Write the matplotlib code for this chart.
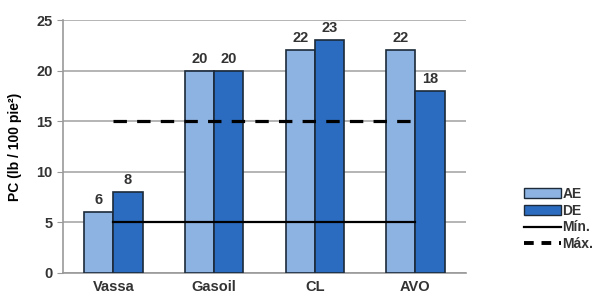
import numpy as np
import matplotlib
matplotlib.use("Agg")
import matplotlib.pyplot as plt
from matplotlib.patches import Patch
from matplotlib.lines import Line2D

plt.rcParams['font.family'] = ['Liberation Sans Narrow', 'Liberation Sans', 'DejaVu Sans']
plt.rcParams['font.weight'] = 'bold'
plt.rcParams['axes.labelweight'] = 'bold'

categories = ['Vassa', 'Gasoil', 'CL', 'AVO']
ae = [6, 20, 22, 22]
de = [8, 20, 23, 18]
min_val = 5
max_val = 15

ae_color = '#8db3e2'
de_color = '#2b6cc0'
edge = '#1c2a3a'
txt = '#333333'

fig = plt.figure(figsize=(6.01, 2.96), dpi=100)
ax = fig.add_axes([0.105, 0.078, 0.67, 0.854])

x = np.arange(len(categories))
w = 0.29
ax.bar(x - w / 2, ae, w, color=ae_color, edgecolor=edge, linewidth=1.2, zorder=3)
ax.bar(x + w / 2, de, w, color=de_color, edgecolor=edge, linewidth=1.2, zorder=3)

for i in range(len(categories)):
    ax.text(x[i] - w / 2, ae[i] + 0.5, str(ae[i]), ha='center', va='bottom', fontsize=10.5, color=txt)
    ax.text(x[i] + w / 2, de[i] + 0.5, str(de[i]), ha='center', va='bottom', fontsize=10.5, color=txt)

ax.plot([x[0], x[-1]], [min_val, min_val], color='black', linewidth=1.6, zorder=4)
ax.plot([x[0], x[-1]], [max_val, max_val], color='black', linewidth=2.3,
        linestyle=(0, (4.2, 3.2)), zorder=4)

ax.set_xlim(-0.5, 3.5)
ax.set_ylim(0, 25)
ax.set_yticks([0, 5, 10, 15, 20, 25])
ax.set_xticks(x)
ax.set_xticklabels(categories, fontsize=10.5, color=txt)
ax.tick_params(axis='y', labelsize=10.5, labelcolor=txt, length=4, color='#999999')
ax.tick_params(axis='x', length=0, pad=5)
ax.yaxis.grid(True, color='#a8a8a8', linewidth=1.2, zorder=0)
for s in ['top', 'right']:
    ax.spines[s].set_visible(False)
ax.spines['left'].set_color('#999999')
ax.spines['bottom'].set_color('#999999')
ax.spines['left'].set_linewidth(1.2)
ax.spines['bottom'].set_linewidth(1.2)
ax.set_ylabel('PC (lb / 100 pie²)', fontsize=10, fontweight='bold', labelpad=10, color='black')

handles = [
    Patch(facecolor=ae_color, edgecolor=edge, label='AE'),
    Patch(facecolor=de_color, edgecolor=edge, label='DE'),
    Line2D([0], [0], color='black', linewidth=1.6, label='Mín.'),
    Line2D([0], [0], color='black', linewidth=2.8, linestyle=(0, (2.5, 2)), label='Máx.'),
]
fig.legend(handles=handles, loc='center left', bbox_to_anchor=(0.862, 0.26), frameon=False,
           fontsize=10, handlelength=2.7, handletextpad=0.1, labelspacing=0.2, borderaxespad=0,
           labelcolor=txt)

fig.savefig('out.png', dpi=100)
